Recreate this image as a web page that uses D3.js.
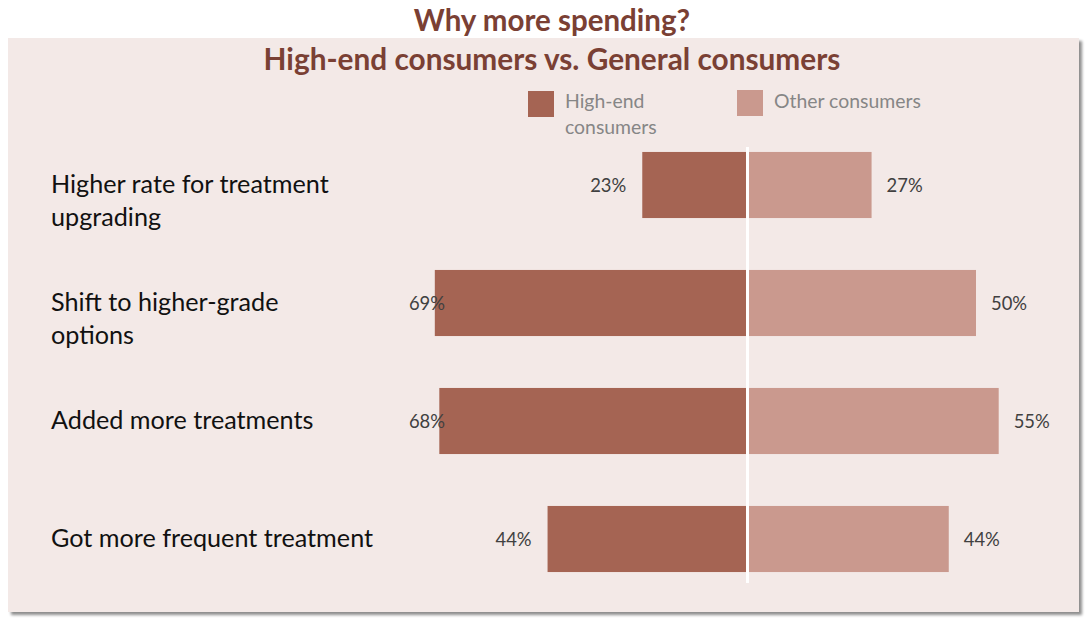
<!DOCTYPE html>
<html>
<head>
<meta charset="utf-8">
<script src="https://cdn.jsdelivr.net/npm/d3@7"></script>
<style>
  html, body { margin: 0; padding: 0; background: #ffffff; }
  svg { display: block; }
</style>
</head>
<body>
<svg id="chart" width="1089" height="620"></svg>
<script>
// Survey answers: share of respondents citing each reason for spending more
const categories = [
  ["Higher rate for treatment", "upgrading"],
  ["Shift to higher-grade", "options"],
  ["Added more treatments"],
  ["Got more frequent treatment"]
];
const highEnd = [23, 69, 68, 44];
const others  = [27, 50, 55, 44];
const seriesNames = [["High-end", "consumers"], ["Other consumers"]];
const titleLines = ["Why more spending?", "High-end consumers vs. General consumers"];

const colors = { high: "#a56453", other: "#ca998e", panel: "#f3e9e7", title: "#7a4034" };
const font = "Lato, 'Open Sans', sans-serif";

const svg = d3.select("#chart");

// drop shadow for the panel
const defs = svg.append("defs");
const f = defs.append("filter").attr("id", "shadow")
  .attr("x", "-5%").attr("y", "-5%").attr("width", "110%").attr("height", "110%");
f.append("feGaussianBlur").attr("in", "SourceAlpha").attr("stdDeviation", 1.6);
f.append("feOffset").attr("dx", 3).attr("dy", 3).attr("result", "b");
f.append("feComponentTransfer").append("feFuncA").attr("type", "linear").attr("slope", 0.45);
const m = f.append("feMerge");
m.append("feMergeNode");
m.append("feMergeNode").attr("in", "SourceGraphic");

svg.append("rect")
  .attr("x", 8).attr("y", 38).attr("width", 1071).attr("height", 574)
  .attr("fill", colors.panel).attr("filter", "url(#shadow)");

// titles
svg.append("text").attr("x", 552).attr("y", 31)
  .attr("text-anchor", "middle").attr("font-family", font).attr("font-weight", 700)
  .attr("font-size", 29.5).attr("fill", colors.title).text(titleLines[0]);
svg.append("text").attr("x", 552).attr("y", 70)
  .attr("text-anchor", "middle").attr("font-family", font).attr("font-weight", 700)
  .attr("font-size", 29.8).attr("fill", colors.title).text(titleLines[1]);

// scales
const y = d3.scaleBand().domain(d3.range(categories.length))
  .range([126, 598]).paddingInner(0.44).paddingOuter(0.22);
const centerL = 746, centerR = 749;
const xL = d3.scaleLinear().domain([0, 100]).range([centerL, centerL - 451]);
const xR = d3.scaleLinear().domain([0, 100]).range([centerR, centerR + 454]);

const rows = svg.append("g");

// left (high-end) bars
rows.selectAll("rect.high").data(highEnd).join("rect")
  .attr("class", "high")
  .attr("x", d => xL(d)).attr("width", d => xL(0) - xL(d))
  .attr("y", (d, i) => y(i)).attr("height", y.bandwidth())
  .attr("fill", colors.high);

// right (other) bars
rows.selectAll("rect.other").data(others).join("rect")
  .attr("class", "other")
  .attr("x", xR(0)).attr("width", d => xR(d) - xR(0))
  .attr("y", (d, i) => y(i)).attr("height", y.bandwidth())
  .attr("fill", colors.other);

// value labels
rows.selectAll("text.vl").data(highEnd).join("text")
  .attr("class", "vl")
  .attr("x", d => Math.max(xL(d) - 16, 445))
  .attr("y", (d, i) => y(i) + y.bandwidth() / 2)
  .attr("dy", "0.36em").attr("text-anchor", "end")
  .attr("font-family", font).attr("font-size", 18.4).attr("fill", "#404040")
  .text(d => d + "%");
rows.selectAll("text.vr").data(others).join("text")
  .attr("class", "vr")
  .attr("x", d => xR(d) + 15)
  .attr("y", (d, i) => y(i) + y.bandwidth() / 2)
  .attr("dy", "0.36em").attr("text-anchor", "start")
  .attr("font-family", font).attr("font-size", 18.4).attr("fill", "#404040")
  .text(d => d + "%");

// centre divider
svg.append("line")
  .attr("x1", 747.5).attr("x2", 747.5).attr("y1", 147).attr("y2", 583)
  .attr("stroke", "#ffffff").attr("stroke-width", 3);

// category labels
const lineH = 33;
const cat = svg.append("g").selectAll("text").data(categories).join("text")
  .attr("font-family", font).attr("font-size", 25.2).attr("fill", "#111111");
cat.each(function(lines, i) {
  const cy = y(i) + y.bandwidth() / 2;
  const t = d3.select(this);
  lines.forEach((ln, k) => {
    t.append("tspan").attr("x", 51).attr("y", cy + 8 + k * lineH).text(ln);
  });
});

// legend
const legend = [
  { name: seriesNames[0], color: colors.high, x: 528 },
  { name: seriesNames[1], color: colors.other, x: 737 }
];
const lg = svg.append("g").selectAll("g").data(legend).join("g")
  .attr("transform", d => `translate(${d.x},90)`);
lg.append("rect").attr("width", 26).attr("height", 26).attr("y", (d, i) => i === 0 ? 1 : 0)
  .attr("fill", d => d.color);
lg.append("text").attr("font-family", font).attr("font-size", 19.4).attr("fill", "#868686")
  .each(function(d) {
    d.name.forEach((ln, k) => {
      d3.select(this).append("tspan").attr("x", 37).attr("y", 18 + k * 26).text(ln);
    });
  });
</script>
</body>
</html>
